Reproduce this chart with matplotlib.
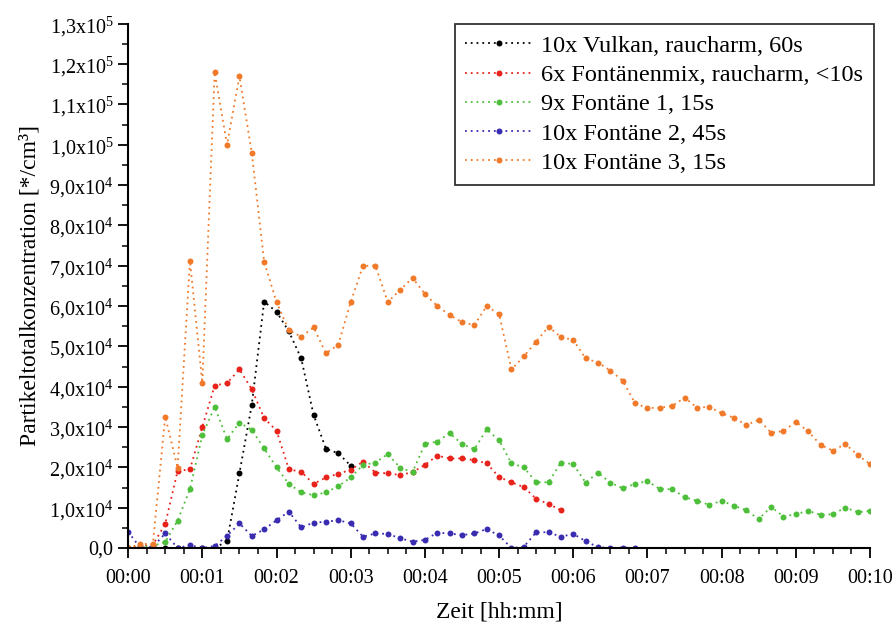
import matplotlib
matplotlib.use("Agg")
import matplotlib.pyplot as plt
import numpy as np
from matplotlib.ticker import MultipleLocator, FuncFormatter

plt.rcParams['font.family'] = ['Liberation Serif', 'DejaVu Serif']
plt.rcParams['mathtext.fontset'] = 'custom'
plt.rcParams['mathtext.rm'] = 'Liberation Serif'
plt.rcParams['mathtext.default'] = 'regular'

# time in seconds, one reading every 10 s
time_s = list(range(0, 610, 10))

# concentrations in units of 1000 particles / cm3
vulkan_k = [0, 0, 0, 0, 0, 0, 0, 0, 1.7, 18.5, 35.5, 61.1, 58.6, 53.7, 47.0,
            33.0, 24.6, 23.5, 20.4]
mix_k = [0, 0.5, 0.8, 5.9, 19.1, 19.5, 30.0, 40.3, 40.9, 44.3,
         39.4, 32.2, 29.1, 19.5, 18.9, 15.9, 17.5, 18.4, 19.4, 21.4,
         18.7, 18.5, 18.1, 18.8, 20.6, 22.9, 22.2, 22.2, 21.8, 21.0,
         17.6, 16.3, 15.1, 12.2, 10.9, 9.4]
font1_k = [0, 0.3, 0.5, 1.5, 6.8, 14.6, 28.0, 35.0, 27.0, 31.1,
           29.3, 24.7, 20.0, 15.9, 13.8, 13.1, 13.8, 15.3, 17.5, 20.6,
           21.2, 23.3, 19.9, 18.8, 25.8, 26.4, 28.5, 25.8, 24.5, 29.4,
           26.7, 21.0, 20.0, 16.3, 16.3, 21.2, 20.8, 16.2, 18.7, 16.2,
           14.8, 15.9, 16.6, 14.6, 14.6, 12.6, 11.7, 10.7, 11.7, 10.5,
           9.3, 7.2, 10.2, 7.8, 8.4, 9.2, 8.2, 8.4, 10.0, 8.9, 9.2]
font2_k = [4.0, 0, 0.3, 3.6, 0, 0.7, 0, 0.5, 3.0, 6.1,
           3.0, 4.6, 6.9, 9.0, 5.1, 6.3, 6.5, 6.9, 6.1, 2.8,
           3.6, 3.5, 2.4, 1.6, 2.0, 3.8, 3.6, 3.2, 3.6, 4.7,
           3.1, 0, 0.3, 3.9, 3.9, 2.8, 3.5, 1.7, 0.2, 0,
           0.1, 0]
font3_k = [0, 1.0, 1.0, 32.6, 19.9, 71.2, 40.9, 118.0, 100.0, 117.0,
           98.0, 71.0, 61.0, 54.0, 52.4, 54.7, 48.3, 50.4, 61.0, 70.0,
           70.0, 61.0, 64.0, 67.0, 63.0, 60.0, 57.8, 56.0, 55.3, 60.0,
           58.0, 44.3, 47.5, 51.2, 54.9, 52.3, 51.6, 47.0, 46.0, 44.0,
           41.5, 35.9, 34.7, 34.8, 35.2, 37.3, 34.8, 35.0, 33.4, 32.3,
           30.5, 31.8, 28.6, 29.0, 31.3, 28.9, 25.6, 24.1, 25.8, 23.1, 20.8]

labels = ["10x Vulkan, raucharm, 60s",
          "6x Fontänenmix, raucharm, <10s",
          "9x Fontäne 1, 15s",
          "10x Fontäne 2, 45s",
          "10x Fontäne 3, 15s"]
colors = ["#000000", "#e8231c", "#4dbf3a", "#3a2cb0", "#f07a2a"]
series = [vulkan_k, mix_k, font1_k, font2_k, font3_k]

fig = plt.figure(figsize=(8.96, 6.27), dpi=100)
ax = fig.add_axes([0.143, 0.126, 0.828, 0.836])

for vals, lab, col in zip(series, labels, colors):
    t = time_s[:len(vals)]
    ax.plot(t, np.array(vals) * 1000, linestyle=(0, (1, 2.2)), lw=1.3,
            color=col, marker='o', markersize=4.3, markeredgewidth=0,
            label=lab)

ax.set_xlim(0, 600)
ax.set_ylim(0, 130000)

ax.xaxis.set_major_locator(MultipleLocator(60))
ax.xaxis.set_minor_locator(MultipleLocator(15))
ax.xaxis.set_major_formatter(FuncFormatter(lambda v, p: "00:%02d" % int(round(v / 60))))

ax.yaxis.set_major_locator(MultipleLocator(10000))
ax.yaxis.set_minor_locator(MultipleLocator(5000))


def yfmt(v, p):
    if v <= 1:
        return "0,0"
    e = int(np.floor(np.log10(v) + 1e-9))
    m = v / 10 ** e
    return ("%.1f" % m).replace('.', ',') + "x10$^{%d}$" % e


ax.yaxis.set_major_formatter(FuncFormatter(yfmt))

for s in ['top', 'right']:
    ax.spines[s].set_visible(False)
for s in ['left', 'bottom']:
    ax.spines[s].set_linewidth(1.5)

ax.tick_params(which='major', direction='out', length=7, width=1.3, labelsize=14.5)
ax.tick_params(which='minor', direction='out', length=4, width=1.1)
ax.tick_params(axis='x', pad=8)

ax.set_xlabel("Zeit [hh:mm]", fontsize=17, labelpad=10)
ax.set_ylabel("Partikeltotalkonzentration [*/cm³]", fontsize=17, labelpad=6)

leg = ax.legend(loc='upper right', bbox_to_anchor=(1.005, 1.0), borderaxespad=0,
                fontsize=17.5, fancybox=False, framealpha=1, edgecolor='#333333',
                handlelength=2.8, numpoints=1, labelspacing=0.3, handletextpad=0.3,
                borderpad=0.45)
leg.get_frame().set_linewidth(1.3)

fig.savefig('out.png', dpi=100)
